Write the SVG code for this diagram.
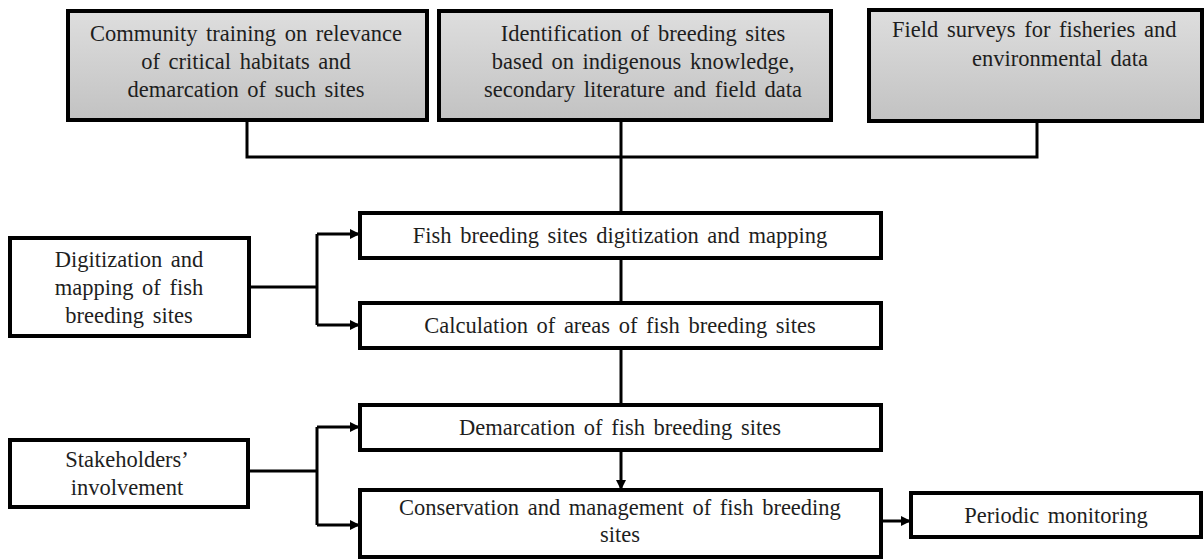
<svg xmlns="http://www.w3.org/2000/svg" width="1204" height="560" viewBox="0 0 1204 560">
<defs>
<linearGradient id="g" x1="0" y1="0" x2="0" y2="1">
<stop offset="0" stop-color="#dedede"/>
<stop offset="1" stop-color="#c2c2c2"/>
</linearGradient>
<marker id="ah" viewBox="0 0 10 10" refX="10" refY="5" markerWidth="11" markerHeight="10" markerUnits="userSpaceOnUse" orient="auto">
<path d="M0,0 L10,5 L0,10 z" fill="#000"/>
</marker>
<style>
.gb{fill:url(#g);stroke:#000;stroke-width:4}
.wb{fill:#fff;stroke:#000;stroke-width:4}
text{font-family:"Liberation Serif","Times New Roman",serif;font-size:22.5px;fill:#1e1e1e;text-anchor:middle;word-spacing:3px}
text.s{text-anchor:start}
.c{fill:none;stroke:#000;stroke-width:3}
</style>
</defs>
<rect width="1204" height="560" fill="#fff"/>
<g id="connectors">
<path class="c" d="M247,120 V157 H1037 V122"/>
<path class="c" d="M621,120 V213"/>
<path class="c" d="M621,258 V303"/>
<path class="c" d="M621,348 V405"/>
<path class="c" d="M621,450 V490" marker-end="url(#ah)"/>
<path class="c" d="M249,287 H317"/>
<path class="c" d="M317,234 V325"/>
<path class="c" d="M317,234 H360" marker-end="url(#ah)"/>
<path class="c" d="M317,325 H360" marker-end="url(#ah)"/>
<path class="c" d="M248,471 H317"/>
<path class="c" d="M317,427 V525"/>
<path class="c" d="M317,427 H360" marker-end="url(#ah)"/>
<path class="c" d="M317,525 H360" marker-end="url(#ah)"/>
<path class="c" d="M881,521 H911" marker-end="url(#ah)"/>
</g>
<g id="n1">
<rect class="gb" x="68" y="11" width="359" height="109"/>
<text x="246" y="41">Community training on relevance</text>
<text x="246" y="69">of critical habitats and</text>
<text x="246" y="97">demarcation of such sites</text>
</g>
<g id="n2">
<rect class="gb" x="439" y="11" width="392" height="109"/>
<text x="643" y="41">Identification of breeding sites</text>
<text x="643" y="69">based on indigenous knowledge,</text>
<text x="643" y="97">secondary literature and field data</text>
</g>
<g id="n3">
<rect class="gb" x="869" y="10" width="333" height="111"/>
<text class="s" x="892" y="37">Field surveys for fisheries and</text>
<text class="s" x="972" y="66">environmental data</text>
</g>
<g id="n4">
<rect class="wb" x="360" y="213" width="521" height="45"/>
<text x="620" y="243">Fish breeding sites digitization and mapping</text>
</g>
<g id="n5">
<rect class="wb" x="360" y="303" width="521" height="45"/>
<text x="620" y="333">Calculation of areas of fish breeding sites</text>
</g>
<g id="n6">
<rect class="wb" x="10" y="238" width="239" height="98"/>
<text x="129" y="267">Digitization and</text>
<text x="129" y="295">mapping of fish</text>
<text x="129" y="323">breeding sites</text>
</g>
<g id="n7">
<rect class="wb" x="360" y="405" width="521" height="45"/>
<text x="620" y="435">Demarcation of fish breeding sites</text>
</g>
<g id="n8">
<rect class="wb" x="360" y="490" width="521" height="67"/>
<text x="620" y="515">Conservation and management of fish breeding</text>
<text x="620" y="542">sites</text>
</g>
<g id="n9">
<rect class="wb" x="10" y="440" width="238" height="67"/>
<text x="127" y="467">Stakeholders’</text>
<text x="127" y="495">involvement</text>
</g>
<g id="n10">
<rect class="wb" x="911" y="493" width="290" height="44"/>
<text x="1056" y="523">Periodic monitoring</text>
</g>
</svg>
